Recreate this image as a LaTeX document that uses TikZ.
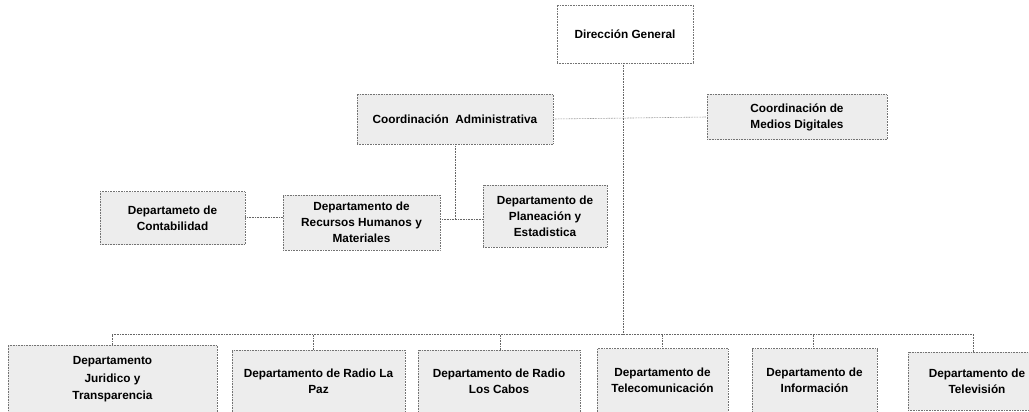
\documentclass[tikz,border=0pt]{standalone}
\usepackage{fontspec}
\setmainfont{Liberation Sans}
\usetikzlibrary{calc}
\begin{document}
\begin{tikzpicture}[x=1pt,y=-1pt,
  box/.style={draw=black!55, densely dotted, line width=0.6pt, fill=black!7,
    inner sep=0pt, align=center, text=black,
    font=\fontsize{11.8}{16}\selectfont\bfseries},
  conn/.style={draw=black!60, densely dotted, line width=0.6pt}]
\useasboundingbox[fill=white] (0,0) rectangle (1029,412);
% top levels
\node[box, minimum width=136pt, minimum height=58pt, fill=white] (dg) at (625,34) {Dirección General};
\node[box, minimum width=196pt, minimum height=50pt] (ca) at (455,119) {Coordinación\ \ Administrativa};
\node[box, minimum width=180pt, minimum height=45pt] (md) at (797,117) {Coordinación de\\Medios Digitales};
% middle level
\node[box, minimum width=145pt, minimum height=53pt] (cont) at (172.5,218) {Departameto de\\Contabilidad};
\node[box, minimum width=157pt, minimum height=55pt] (rh) at (361.5,222.5) {Departamento de\\Recursos Humanos y\\Materiales};
\node[box, minimum width=124pt, minimum height=62pt] (pl) at (545,216) {Departamento de\\Planeación y\\Estadistica};
% bottom level
\node[box, minimum width=209pt, minimum height=69pt, font=\fontsize{11.8}{17.5}\selectfont\bfseries] (jt) at (112.5,379.5) {Departamento\\Juridico y\\Transparencia};
\node[box, minimum width=173pt, minimum height=63pt] (lp) at (318.5,381.5) {Departamento de Radio La\\Paz};
\node[box, minimum width=162pt, minimum height=63pt] (lc) at (499,381.5) {Departamento de Radio\\Los Cabos};
\node[box, minimum width=131pt, minimum height=64pt] (tc) at (662.5,380.5) {Departamento de\\Telecomunicación};
\node[box, minimum width=125pt, minimum height=64pt] (in) at (814.5,380.5) {Departamento de\\Información};
\node[box, minimum width=138pt, minimum height=58pt] (tv) at (977,381) {Departamento de\\Televisión};
% bus coordinates
\coordinate (busL) at (112,334);
\coordinate (busR) at (973,334);
\coordinate (midy) at (455,219);
% connectors
\draw[conn] ([xshift=-2pt]dg.south) -- ([xshift=-2pt]dg.south |- busL);
\draw[conn] (ca.east) -- (md.west);
\draw[conn] (ca.south) -- (midy);
\draw[conn] (rh.east |- midy) -- (pl.west |- midy);
\draw[conn] ([yshift=1pt]cont.east) -- ([yshift=1pt]cont.east -| rh.west);
\draw[conn] (busL) -- (busR);
\draw[conn] (jt.north) -- (jt.north |- busL);
\draw[conn] ([xshift=-5pt]lp.north) -- ([xshift=-5pt]lp.north |- busL);
\draw[conn] ([xshift=1pt]lc.north) -- ([xshift=1pt]lc.north |- busL);
\draw[conn] (tc.north) -- (tc.north |- busL);
\draw[conn] ([xshift=-1.5pt]in.north) -- ([xshift=-1.5pt]in.north |- busL);
\draw[conn] ([xshift=-4pt]tv.north) -- (busR);
\end{tikzpicture}
\end{document}
